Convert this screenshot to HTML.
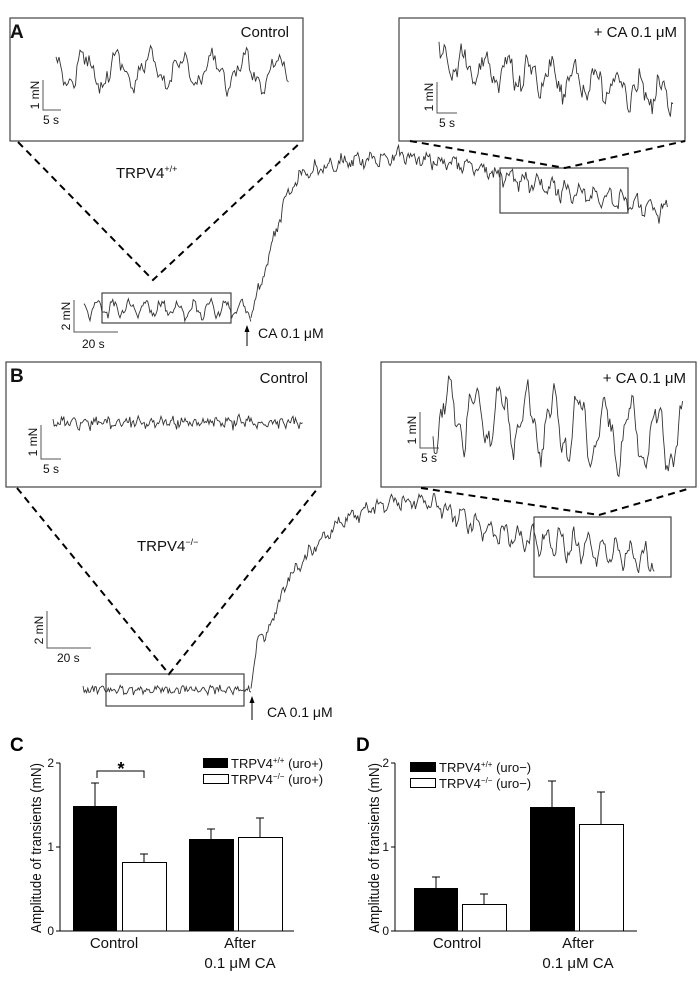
<!DOCTYPE html>
<html><head><meta charset="utf-8"><style>
html,body{margin:0;padding:0;background:#fff;}
svg{display:block;font-family:"Liberation Sans",sans-serif;}
</style></head><body>
<svg id="s" width="700" height="986" viewBox="0 0 700 986" xmlns="http://www.w3.org/2000/svg">
<g fill="none" stroke="#444" stroke-width="1.2">
<rect x="10" y="18" width="293" height="123"/>
<rect x="399" y="18" width="286" height="123"/>
<rect x="102" y="293" width="129" height="30"/>
<rect x="500" y="168" width="128" height="45"/>
<rect x="6" y="362" width="315" height="125"/>
<rect x="381" y="362" width="315" height="125"/>
<rect x="106" y="674" width="138" height="32"/>
<rect x="534" y="517" width="137" height="60"/>
</g>
<g fill="none" stroke="#000" stroke-width="2" stroke-dasharray="7,5">
<polyline points="18,142 153,280 301,142"/>
<polyline points="410,141 565,168 685,141"/>
<polyline points="17,488 169,674 318,488"/>
<polyline points="421,488 599,515 691,488"/>
</g>
<g fill="none" stroke="#555" stroke-width="1">
<polyline points="43,80 43,110 61,110"/>
<polyline points="437,82 437,113 457,113"/>
<polyline points="74,300 74,332 118,332"/>
<polyline points="41,425 41,459 61,459"/>
<polyline points="420,412 420,448 439,448"/>
<polyline points="47,611 47,648 91,648"/>
</g>
<g fill="none" stroke="#333" stroke-width="0.9" id="traces"></g>
<g stroke="#000" stroke-width="1">
<line x1="247" y1="330" x2="247" y2="346"/>
<line x1="252" y1="701" x2="252" y2="720"/>
</g>
<polygon points="247,325 244.5,332 249.5,332" fill="#000"/>
<polygon points="252,696 249.5,703 254.5,703" fill="#000"/>
<g font-size="15" fill="#111">
<text x="10" y="38" font-weight="bold" font-size="19">A</text>
<text x="289" y="37" text-anchor="end">Control</text>
<text x="677" y="37" text-anchor="end">+ CA 0.1 μM</text>
<text x="116" y="178">TRPV4<tspan font-size="9" dy="-6">+/+</tspan></text>
<text x="258" y="338" font-size="14">CA 0.1 μM</text>
<text x="10" y="382" font-weight="bold" font-size="19">B</text>
<text x="308" y="383" text-anchor="end">Control</text>
<text x="686" y="383" text-anchor="end">+ CA 0.1 μM</text>
<text x="137" y="551">TRPV4<tspan font-size="9" dy="-6">−/−</tspan></text>
<text x="267" y="717" font-size="14">CA 0.1 μM</text>
</g>
<g font-size="12" fill="#111">
<text x="43" y="124">5 s</text>
<text x="439" y="127">5 s</text>
<text x="82" y="348">20 s</text>
<text x="43" y="473">5 s</text>
<text x="421" y="462">5 s</text>
<text x="57" y="662">20 s</text>
<text transform="translate(39,95) rotate(-90)" text-anchor="middle">1 mN</text>
<text transform="translate(433,97) rotate(-90)" text-anchor="middle">1 mN</text>
<text transform="translate(70,316) rotate(-90)" text-anchor="middle">2 mN</text>
<text transform="translate(37,442) rotate(-90)" text-anchor="middle">1 mN</text>
<text transform="translate(416,430) rotate(-90)" text-anchor="middle">1 mN</text>
<text transform="translate(43,630) rotate(-90)" text-anchor="middle">2 mN</text>
</g>
<!-- Panel C -->
<text x="10" y="751" font-weight="bold" font-size="19">C</text>
<text x="121" y="775" font-weight="bold" font-size="18" text-anchor="middle">*</text>
<g stroke="#000" stroke-width="1" fill="none">
<polyline points="60,763 60,931 294,931"/>
<line x1="56" y1="763" x2="60" y2="763"/><line x1="56" y1="847" x2="60" y2="847"/><line x1="56" y1="931" x2="60" y2="931"/>
<line x1="95" y1="806" x2="95" y2="783"/><line x1="91" y1="783" x2="99" y2="783"/>
<line x1="144" y1="862" x2="144" y2="854"/><line x1="140" y1="854" x2="148" y2="854"/>
<line x1="211" y1="839" x2="211" y2="829"/><line x1="207" y1="829" x2="215" y2="829"/>
<line x1="260" y1="837" x2="260" y2="818"/><line x1="256" y1="818" x2="264" y2="818"/>
<polyline points="97,778 97,771 144,771 144,778"/>
</g>
<rect x="73" y="806" width="44" height="125" fill="#000"/>
<rect x="122.5" y="862.5" width="44" height="68.5" fill="#fff" stroke="#000"/>
<rect x="189" y="839" width="45" height="92" fill="#000"/>
<rect x="238.5" y="837.5" width="44" height="93.5" fill="#fff" stroke="#000"/>
<rect x="203" y="758" width="25" height="10" fill="#000"/>
<rect x="203.5" y="774.5" width="25" height="9" fill="#fff" stroke="#000"/>
<!-- Panel D -->
<text x="356" y="751" font-weight="bold" font-size="19">D</text>
<g stroke="#000" stroke-width="1" fill="none">
<polyline points="395,763 395,931 637,931"/>
<line x1="391" y1="763" x2="395" y2="763"/><line x1="391" y1="847" x2="395" y2="847"/><line x1="391" y1="931" x2="395" y2="931"/>
<line x1="436" y1="888" x2="436" y2="877"/><line x1="432" y1="877" x2="440" y2="877"/>
<line x1="484" y1="904" x2="484" y2="894"/><line x1="480" y1="894" x2="488" y2="894"/>
<line x1="552" y1="807" x2="552" y2="781"/><line x1="548" y1="781" x2="556" y2="781"/>
<line x1="601" y1="824" x2="601" y2="792"/><line x1="597" y1="792" x2="605" y2="792"/>
</g>
<rect x="414" y="888" width="44" height="43" fill="#000"/>
<rect x="462.5" y="904.5" width="44" height="26.5" fill="#fff" stroke="#000"/>
<rect x="530" y="807" width="45" height="124" fill="#000"/>
<rect x="579.5" y="824.5" width="44" height="106.5" fill="#fff" stroke="#000"/>
<rect x="410" y="762" width="26" height="10" fill="#000"/>
<rect x="410.5" y="778.5" width="25" height="9" fill="#fff" stroke="#000"/>
<g fill="#111" font-size="12">
<text x="54" y="767" text-anchor="end">2</text><text x="54" y="851" text-anchor="end">1</text><text x="54" y="935" text-anchor="end">0</text>
<text x="389" y="767" text-anchor="end">2</text><text x="389" y="851" text-anchor="end">1</text><text x="389" y="935" text-anchor="end">0</text>
</g>
<g fill="#111" font-size="13">
<text x="231" y="768">TRPV4<tspan font-size="8" dy="-5">+/+</tspan><tspan dy="5"> (uro+)</tspan></text>
<text x="231" y="784">TRPV4<tspan font-size="8" dy="-5">−/−</tspan><tspan dy="5"> (uro+)</tspan></text>
<text x="439" y="772">TRPV4<tspan font-size="8" dy="-5">+/+</tspan><tspan dy="5"> (uro−)</tspan></text>
<text x="439" y="788">TRPV4<tspan font-size="8" dy="-5">−/−</tspan><tspan dy="5"> (uro−)</tspan></text>
</g>
<g fill="#111" font-size="15" text-anchor="middle">
<text transform="translate(41,848) rotate(-90)" textLength="170" lengthAdjust="spacingAndGlyphs">Amplitude of transients (mN)</text>
<text transform="translate(379,848) rotate(-90)" textLength="170" lengthAdjust="spacingAndGlyphs">Amplitude of transients (mN)</text>
<text x="114" y="948">Control</text>
<text x="240" y="948">After</text>
<text x="240" y="968">0.1 μM CA</text>
<text x="457" y="948">Control</text>
<text x="578" y="948">After</text>
<text x="578" y="968">0.1 μM CA</text>
</g>
</svg>
<script>
(function(){
var seed=12345;function r(){seed=(seed*16807)%2147483647;return seed/2147483647;}
function interp(pts,x){for(var i=0;i<pts.length-1;i++){if(x<=pts[i+1][0]){var a=pts[i],b=pts[i+1];var t=(x-a[0])/(b[0]-a[0]);return a[1]+t*(b[1]-a[1]);}}return pts[pts.length-1][1];}
var g=document.getElementById('traces');
function tr(x0,x1,base,ampf,period,noise,step){
 var d='',ph=r()*6;
 for(var x=x0;x<=x1;x+=step){
  var a=typeof ampf==='function'?ampf(x):ampf;
  var y=interp(base,x)+a*(Math.sin(2*Math.PI*x/period+ph)+0.35*Math.sin(2*Math.PI*x/(period*0.37)))+noise*(r()-0.5);
  d+=(d?'L':'M')+x.toFixed(1)+','+y.toFixed(1);
 }
 var p=document.createElementNS('http://www.w3.org/2000/svg','path');p.setAttribute('d',d);g.appendChild(p);
}
tr(56,289,[[56,70],[289,72]],15,32,14,1.5);
tr(439,673,[[439,62],[560,80],[673,95]],14,22,16,1.3);
tr(84,251,[[84,308],[251,310]],7,16,7,1.2);
tr(251,668,[[251,310],[262,280],[272,245],[285,200],[300,175],[340,162],[400,155],[460,165],[500,175],[560,190],[620,200],[668,212]],function(x){return x<300?3:x<500?5:8;},14,10,1.2);
tr(53,303,[[53,423],[303,422]],3,11,9,1.2);
tr(433,683,[[433,410],[560,425],[683,440]],30,26,16,1.3);
tr(83,251,[[83,690],[251,690]],2,9,7,1.2);
tr(251,655,[[251,690],[258,633],[265,640],[280,600],[291,573],[341,520],[386,503],[426,500],[493,533],[538,540],[655,560]],function(x){return x<300?2:x<450?5:x<520?8:12;},14,9,1.2);
})();
</script>
</body></html>
